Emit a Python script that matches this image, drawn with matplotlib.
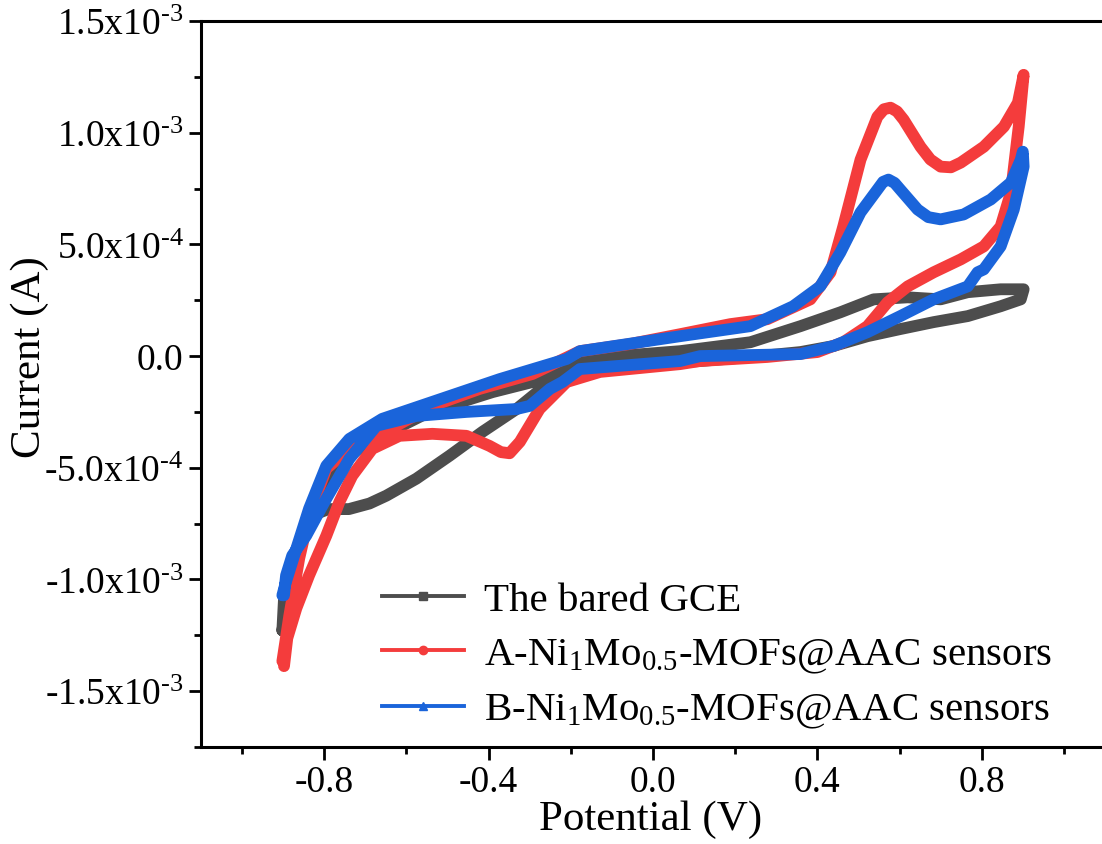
import matplotlib
matplotlib.use("Agg")
import matplotlib.pyplot as plt
import numpy as np
from matplotlib.lines import Line2D
from matplotlib.ticker import MultipleLocator, FuncFormatter

plt.rcParams['font.family'] = ['Liberation Serif', 'DejaVu Serif']
plt.rcParams['mathtext.fontset'] = 'custom'
plt.rcParams['mathtext.rm'] = 'Liberation Serif'
plt.rcParams['mathtext.it'] = 'Liberation Serif:italic'
plt.rcParams['axes.unicode_minus'] = False

# CV loops: potential (V), current (x1e-4 A)
# forward scan -0.9 -> 0.9 V, then reverse scan back to -0.9 V
gce_v = [-0.902, -0.885, -0.861, -0.824, -0.776, -0.702, -0.617, -0.544, -0.390, -0.293,
         -0.178, 0.066, 0.237, 0.359, 0.456, 0.537, 0.620, 0.700, 0.766, 0.846, 0.902,
         0.895, 0.846, 0.766, 0.683, 0.602, 0.522, 0.439, 0.359, 0.237, 0.115, -0.007,
         -0.129, -0.190, -0.251, -0.332, -0.415, -0.495, -0.576, -0.649, -0.690, -0.740,
         -0.790, -0.825, -0.850, -0.878, -0.898, -0.902]
gce_i = [-12.28, -10.40, -8.39, -6.61, -5.04, -3.93, -3.17, -2.50, -1.61, -1.16,
         -0.13, 0.22, 0.62, 1.34, 1.96, 2.54, 2.63, 2.54, 2.86, 2.99, 2.99,
         2.54, 2.23, 1.79, 1.52, 1.21, 0.89, 0.45, 0.18, -0.04, -0.22, -0.36,
         -0.40, -0.67, -1.16, -2.37, -3.39, -4.46, -5.49, -6.25, -6.60, -6.85,
         -6.85, -7.10, -7.90, -9.37, -10.85, -12.28]

a_v = [-0.902, -0.885, -0.861, -0.837, -0.795, -0.739, -0.698, -0.617, -0.537, -0.422,
       -0.293, -0.178, -0.056, 0.066, 0.188, 0.278, 0.383, 0.432, 0.463, 0.505, 0.546,
       0.562, 0.578, 0.594, 0.610, 0.651, 0.675, 0.700, 0.725, 0.749, 0.805, 0.854,
       0.888, 0.902,
       0.890, 0.871, 0.846, 0.805, 0.749, 0.683, 0.620, 0.571, 0.522, 0.463, 0.400,
       0.278, 0.115, 0.066, -0.129, -0.210, -0.276, -0.324, -0.349, -0.370, -0.398,
       -0.454, -0.537, -0.617, -0.683, -0.732, -0.763, -0.795, -0.837, -0.868, -0.890,
       -0.898]
a_i = [-13.66, -11.61, -9.06, -7.14, -5.04, -4.15, -3.71, -3.04, -2.23, -1.47,
       -0.80, 0.22, 0.54, 0.98, 1.43, 1.65, 2.54, 3.75, 5.80, 8.79, 10.71,
       11.05, 11.12, 10.95, 10.58, 9.37, 8.80, 8.48, 8.45, 8.66, 9.37, 10.27,
       11.34, 12.59,
       10.27, 7.32, 5.80, 4.91, 4.33, 3.75, 3.12, 2.41, 1.34, 0.62, 0.18,
       -0.04, -0.22, -0.36, -0.71, -1.16, -2.37, -3.84, -4.35, -4.30, -4.02,
       -3.57, -3.48, -3.57, -4.15, -5.36, -6.52, -8.04, -9.82, -11.29, -12.63,
       -13.88]

b_v = [-0.902, -0.893, -0.868, -0.837, -0.795, -0.739, -0.659, -0.537, -0.373, -0.210,
       -0.178, 0.066, 0.237, 0.341, 0.407, 0.456, 0.505, 0.546, 0.560, 0.573, 0.588,
       0.602, 0.644, 0.670, 0.700, 0.756, 0.822, 0.871, 0.895, 0.900,
       0.902, 0.878, 0.846, 0.805, 0.790, 0.766, 0.683, 0.602, 0.522, 0.439, 0.359,
       0.115, 0.066, -0.178, -0.220, -0.251, -0.300, -0.332, -0.454, -0.576, -0.673,
       -0.739, -0.795, -0.844, -0.878, -0.893, -0.898]
b_i = [-10.71, -10.09, -8.62, -6.83, -4.91, -3.71, -2.81, -2.05, -1.03, -0.13,
       0.22, 0.89, 1.34, 2.23, 3.12, 4.64, 6.43, 7.45, 7.80, 7.90, 7.75,
       7.45, 6.56, 6.22, 6.12, 6.34, 7.01, 7.77, 8.79, 9.15,
       8.48, 6.56, 4.91, 3.88, 3.75, 3.12, 2.54, 1.79, 1.07, 0.45, 0.09,
       0.0, -0.22, -0.58, -1.16, -1.47, -2.23, -2.37, -2.50, -2.68, -3.12,
       -4.60, -6.38, -8.04, -8.93, -9.82, -10.71]

labels = ["The bared GCE",
          "A-Ni$_1$Mo$_{0.5}$-MOFs@AAC sensors",
          "B-Ni$_1$Mo$_{0.5}$-MOFs@AAC sensors"]
colors = ["#4D4D4D", "#F43C3C", "#1A64DA"]
markers = ["s", "o", "^"]

fig = plt.figure(figsize=(11.02, 8.45), dpi=100)
ax = fig.add_axes([201/1102, 1 - 748/845, (1105 - 201)/1102, (748 - 22)/845])

for v, i, c in zip([gce_v, a_v, b_v], [gce_i, a_i, b_i], colors):
    ax.plot(v, np.array(i) * 1e-4, color=c, lw=8.5, solid_joinstyle='round',
            solid_capstyle='round')

ax.set_xlim(-1.1, 1.1)
ax.set_ylim(-1.75e-3, 1.5e-3)
ax.xaxis.set_major_locator(MultipleLocator(0.4))
ax.xaxis.set_minor_locator(MultipleLocator(0.2))
ax.yaxis.set_major_locator(MultipleLocator(5e-4))
ax.yaxis.set_minor_locator(MultipleLocator(2.5e-4))


def yfmt(val, pos):
    if abs(val) < 1e-9:
        return "0.0"
    exp = int(np.floor(np.log10(abs(val))))
    mant = val / 10**exp
    return "%.1fx10$^{\\text{-}%d}$" % (mant, -exp)


ax.yaxis.set_major_formatter(FuncFormatter(yfmt))
ax.xaxis.set_major_formatter(FuncFormatter(lambda v, p: "%.1f" % v))

ax.tick_params(which='major', direction='out', length=9, width=2, labelsize=27)
ax.tick_params(which='minor', direction='out', length=5, width=2)
for s in ax.spines.values():
    s.set_linewidth(2.2)

ax.set_xlabel("Potential (V)", fontsize=31)
ax.set_ylabel("Current (A)", fontsize=31)
ax.xaxis.set_label_coords(0.497, -0.072)
ax.yaxis.set_label_coords(-0.168, 0.538)

handles = [Line2D([], [], color=c, lw=2.8, marker=m, markersize=6)
           for c, m in zip(colors, markers)]
ax.legend(handles, labels, loc='upper left', bbox_to_anchor=(0.2, 0.228),
          frameon=False, fontsize=29.5, handlelength=2.0, handletextpad=0.5,
          labelspacing=0.4, borderpad=0, borderaxespad=0)

fig.savefig("out.png", dpi=100)
